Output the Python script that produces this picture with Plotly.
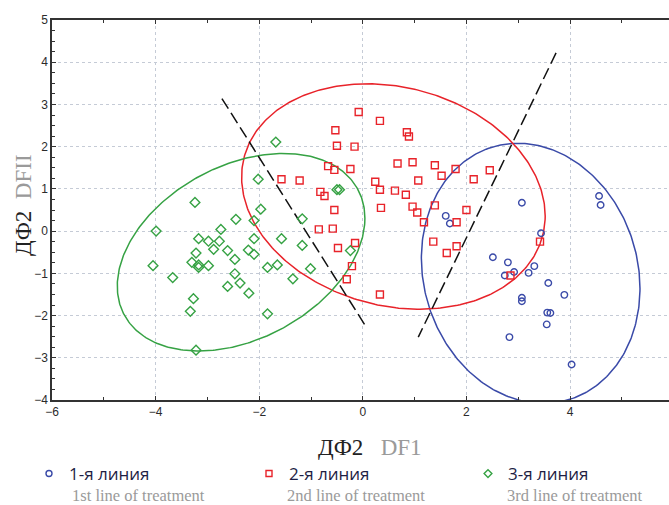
import numpy as np
import plotly.graph_objects as go

# ---- data ----
line1_x = [4.56, 4.59, 3.07, 1.60, 1.68, 3.44, 2.51, 2.80, 3.31, 2.92, 2.74,
           3.20, 3.58, 3.89, 3.07, 3.07, 3.56, 3.62, 3.55, 2.83, 4.03]
line1_y = [0.83, 0.62, 0.67, 0.36, 0.18, -0.05, -0.62, -0.74, -0.83, -0.97, -1.05,
           -0.99, -1.23, -1.51, -1.58, -1.66, -1.93, -1.94, -2.21, -2.51, -3.16]

line2_x = [-0.08, 0.33, -0.53, 0.85, 0.89, -0.50, -0.16, -0.67, -0.55, -0.24, 0.67,
           0.96, 1.39, 1.79, 2.45, -1.57, -1.22, 0.24, 1.07, 1.52, 2.14, -0.82,
           -0.74, 0.33, 0.62, 0.83, -0.55, 0.35, 0.96, 1.05, 1.39, 2.00, 1.18,
           1.81, -0.85, -0.58, -0.48, -0.15, 1.36, 1.81, 1.62, -0.21, -0.31,
           0.33, 3.42, 2.85]
line2_y = [2.82, 2.61, 2.39, 2.34, 2.24, 2.02, 2.00, 1.54, 1.45, 1.47, 1.60,
           1.63, 1.56, 1.47, 1.44, 1.23, 1.20, 1.17, 1.20, 1.31, 1.23, 0.93,
           0.83, 0.98, 0.96, 0.86, 0.50, 0.55, 0.58, 0.44, 0.61, 0.50, 0.21,
           0.21, 0.04, 0.06, -0.40, -0.28, -0.25, -0.36, -0.52, -0.83, -1.14,
           -1.50, -0.25, -1.05]

line3_x = [-1.68, -2.02, -3.24, -1.97, -2.45, -2.10, -1.17, -3.99, -2.74, -3.17,
           -2.98, -2.77, -2.10, -1.57, -2.88, -2.61, -2.21, -2.10, -1.17, -3.22,
           -2.47, -3.30, -3.17, -3.17, -2.98, -4.05, -1.84, -1.65, -1.01, -3.67,
           -2.47, -1.35, -2.37, -2.61, -2.20, -3.27, -3.33, -1.84, -3.22, -0.50,
           -0.45, -0.24]
line3_y = [2.11, 1.23, 0.68, 0.52, 0.28, 0.25, 0.29, 0.00, 0.04, -0.18,
           -0.24, -0.24, -0.18, -0.18, -0.43, -0.46, -0.45, -0.55, -0.34, -0.52,
           -0.67, -0.74, -0.80, -0.86, -0.82, -0.82, -0.86, -0.80, -0.89, -1.10,
           -1.01, -1.13, -1.23, -1.31, -1.47, -1.60, -1.90, -1.96, -2.82, 0.98,
           0.98, -0.46]

# ellipses: centre, half-extent in x, half-extent in y, covariance term
ell_cx = [3.24, 0.59, -2.35]
ell_cy = [-1.00, 0.82, -0.50]
ell_wx = [2.11, 2.93, 2.39]
ell_wy = [3.08, 2.67, 2.34]
ell_sxy = [-0.755, -1.35, 1.92]

# dashed boundary lines
bound1_x = [-2.72, 0.08]
bound1_y = [3.14, -2.30]
bound2_x = [3.73, 1.07]
bound2_y = [4.22, -2.51]

names_ru = ["1-я линия", "2-я линия", "3-я линия"]
names_en = ["1st line of treatment", "2nd line of treatment", "3rd line of treatment"]

colors = ["#3a4aa8", "#e8232a", "#36a244"]
symbols = ["circle-open", "square-open", "diamond-open"]
sizes = [6.5, 7, 7.5]
legend_ids = ["legend", "legend2", "legend3"]

fig = go.Figure()

t = np.linspace(0, 2 * np.pi, 361)
for i in range(3):
    a = ell_sxy[i] / ell_wx[i]
    b = np.sqrt(ell_wy[i] ** 2 - a ** 2)
    ex = ell_cx[i] + ell_wx[i] * np.cos(t)
    ey = ell_cy[i] + a * np.cos(t) + b * np.sin(t)
    fig.add_trace(go.Scatter(x=ex, y=ey, mode="lines",
                             line=dict(color=colors[i], width=1.5),
                             showlegend=False, hoverinfo="skip"))

for bx, by in [(bound1_x, bound1_y), (bound2_x, bound2_y)]:
    fig.add_trace(go.Scatter(x=bx, y=by, mode="lines",
                             line=dict(color="#111111", width=1.5, dash="12px,5px"),
                             showlegend=False, hoverinfo="skip"))

for i, (xs, ys) in enumerate([(line1_x, line1_y), (line2_x, line2_y), (line3_x, line3_y)]):
    fig.add_trace(go.Scatter(x=xs, y=ys, mode="markers",
                             marker=dict(symbol=symbols[i], size=sizes[i],
                                         color=colors[i], line=dict(width=1.4)),
                             showlegend=False, name=names_ru[i]))
    # legend entry
    fig.add_trace(go.Scatter(x=[None], y=[None], mode="markers",
                             marker=dict(symbol=symbols[i], size=6,
                                         color=colors[i], line=dict(width=1.4)),
                             name=names_ru[i], showlegend=True, legend=legend_ids[i]))

PLOT_L, PLOT_W, PLOT_T, PLOT_H = 52, 617, 20, 380


def px_x(p):
    return (p - PLOT_L) / PLOT_W


def px_y(p):
    return (PLOT_T + PLOT_H - p) / PLOT_H


for i, xp in enumerate([70, 285, 505]):
    fig.add_annotation(xref="paper", yref="paper",
                       x=px_x(xp), y=px_y(496),
                       xanchor="left", yanchor="middle", showarrow=False,
                       text=names_en[i],
                       font=dict(family="Liberation Serif", size=16.5, color="#9a9a9a"))

# axis titles
fig.add_annotation(xref="paper", yref="paper", x=px_x(370), y=px_y(447),
                   xanchor="center", yanchor="middle", showarrow=False,
                   text="ДФ2&nbsp;&nbsp;&nbsp;<span style='color:#9a9a9a'>DF1</span>",
                   font=dict(family="Liberation Serif", size=23, color="#222222"))
fig.add_annotation(xref="paper", yref="paper", x=px_x(24), y=px_y(205),
                   xanchor="center", yanchor="middle", showarrow=False, textangle=-90,
                   text="ДФ2&nbsp;&nbsp;<span style='color:#9a9a9a'>DFII</span>",
                   font=dict(family="Liberation Serif", size=23, color="#222222"))

axis_common = dict(showline=True, linecolor="#333333", linewidth=1.5, automargin=False,
                   showgrid=True, gridcolor="#c5cbd6", griddash="dot", gridwidth=1,
                   zeroline=False, ticks="inside", ticklen=4, tickcolor="#333333",
                   tickfont=dict(family="Liberation Sans", size=12, color="#2b2b2b"))

fig.update_xaxes(range=[-6, 5.91], dtick=2, tick0=-6, mirror="ticks",
                 minor=dict(dtick=1, ticks="inside", ticklen=3, tickcolor="#333333", showgrid=False),
                 **axis_common)
fig.update_yaxes(range=[-4, 5], dtick=1, mirror=False,
                 minor=dict(dtick=0.25, ticks="inside", ticklen=3, tickcolor="#333333", showgrid=False),
                 **axis_common)

legend_style = dict(orientation="h", xref="container", yref="container",
                    y=(505 - 456) / 505, xanchor="left", yanchor="top",
                    font=dict(family="Open Sans", size=17, color="#1e1e44"),
                    bgcolor="rgba(0,0,0,0)", itemclick=False)
fig.update_layout(
    width=669, height=505,
    margin=dict(l=PLOT_L, r=0, t=PLOT_T, b=505 - PLOT_T - PLOT_H, autoexpand=False),
    plot_bgcolor="white", paper_bgcolor="white",
    legend=dict(x=29 / 669, **legend_style),
    legend2=dict(x=249 / 669, **legend_style),
    legend3=dict(x=468 / 669, **legend_style),
)

fig.write_html("out.html", config={"displayModeBar": False},
               post_script="document.body.style.margin='0';document.body.style.overflow='hidden';")
